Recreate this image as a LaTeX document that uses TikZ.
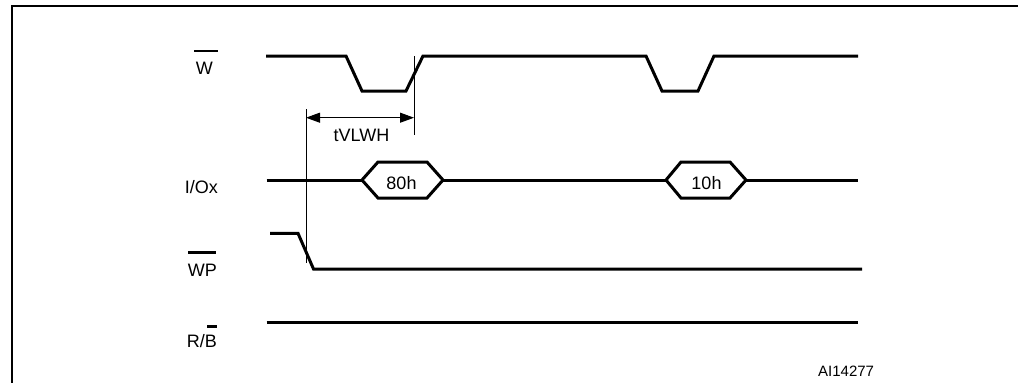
\documentclass[tikz,border=0pt]{standalone}
\usepackage{fontspec}
\setmainfont{Liberation Sans}
\usetikzlibrary{arrows.meta}
\begin{document}
\begin{tikzpicture}[x=1pt,y=-1pt,
  sig/.style={line width=3pt, line join=miter},
  thinline/.style={line width=1pt},
  bar/.style={line width=2.2pt},
  lbl/.style={font=\fontsize{18}{20}\selectfont, inner sep=0pt, anchor=base east},
  txt/.style={font=\fontsize{18}{20}\selectfont, inner sep=0pt, anchor=base},
  dimtip/.tip={Triangle[length=14pt,width=10pt]}]
\useasboundingbox (0,0) rectangle (1018,383);
\fill[white] (0,0) rectangle (1018,383);
% frame
\draw[line width=2pt] (12,395) -- (12,6) -- (1030,6);
% labels
\node[lbl] (lW) at (213,74) {W};
\node[lbl] (lIO) at (218,193) {I/Ox};
\node[lbl] (lWP) at (217,276) {WP};
\node[lbl] (lRB) at (217,347.7) {R/B};
\draw[bar] (194,51) -- (218,51);
\draw[bar] (188,252.5) -- (216,252.5);
\draw[bar] (207,326.5) -- (217,326.5);
% W signal
\draw[sig] (266,56) -- (346,56) -- (362,91) -- (406,91) -- (423,56) -- (646,56) -- (662,91) -- (698,91) -- (714,56) -- (858,56);
% I/Ox signal
\draw[sig] (266.5,180) -- (362,180);
\draw[sig] (362,180) -- (378,162) -- (427,162) -- (443,180) -- (427,198) -- (378,198) -- cycle;
\draw[sig] (443,180) -- (666,180);
\draw[sig] (666,180) -- (681,162) -- (730,162) -- (746,180) -- (730,198) -- (681,198) -- cycle;
\draw[sig] (746,180) -- (858,180);
\node[txt] (h80) at (401.5,189.3) {80h};
\node[txt] (h10) at (706.5,189.3) {10h};
% WP signal
\draw[sig] (270,233.3) -- (298,233.3) -- (313.5,269) -- (862,269);
% R/B signal
\draw[sig] (266.5,322.3) -- (858,322.3);
% timing annotation
\coordinate (vA1) at (306,109);
\coordinate (vA2) at (306,263);
\coordinate (vB1) at (414,56);
\coordinate (vB2) at (414,135);
\coordinate (aL) at (306,117.7);
\coordinate (aR) at (414,117.7);
\draw[thinline] (vA1) -- (vA2);
\draw[thinline] (vB1) -- (vB2);
\draw[thinline, dimtip-dimtip] (aL) -- (aR);
\node[txt] (tv) at (361.5,141.7) {tVLWH};
% figure id
\node[font=\fontsize{15}{17}\selectfont, inner sep=0pt, anchor=base west] (id) at (818,376.7) {AI14277};
\end{tikzpicture}
\end{document}
